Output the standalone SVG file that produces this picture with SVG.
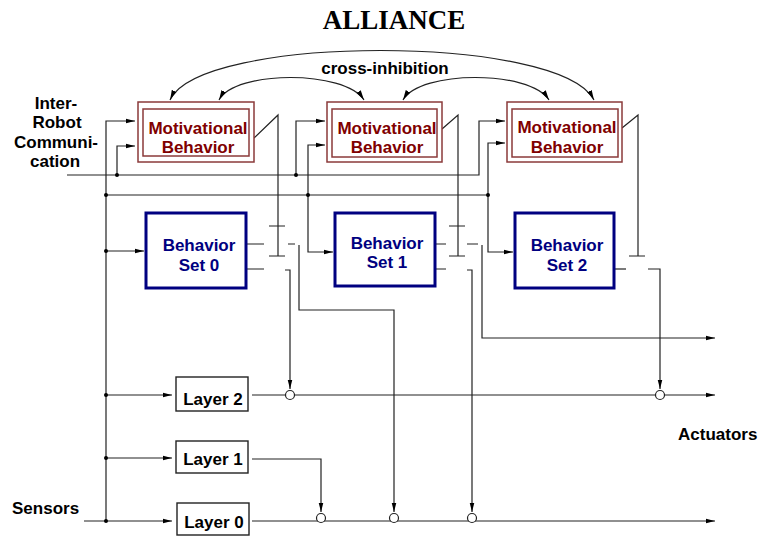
<svg xmlns="http://www.w3.org/2000/svg" width="759" height="536" viewBox="0 0 759 536">
<style>
  text { font-family: "Liberation Sans", Arial, sans-serif; font-weight: bold; }
  .lbl { font-size: 17px; fill: #000; }
  .mot { font-size: 17px; fill: #800000; text-anchor: middle; }
  .bs { font-size: 17px; fill: #000080; text-anchor: middle; }
  .lay { font-size: 17px; fill: #000; text-anchor: middle; }
  .ttl { font-family: "Liberation Serif", "Times New Roman", serif; font-size: 27px; fill: #000; text-anchor: middle; }
  .mbox { fill: #fff; stroke: #8b3a3a; stroke-width: 1.5; }
  .bbox { fill: #fff; stroke: #000080; stroke-width: 3; }
  .lbox { fill: #fff; stroke: #222; stroke-width: 1.4; }
  .ln { fill: none; stroke: #222; stroke-width: 1.2; }
  .arc { fill: none; stroke: #222; stroke-width: 1.2; }
  .dot { fill: #000; }
  .circ { fill: #fff; stroke: #222; stroke-width: 1.2; }
</style>
<defs>
  <marker id="a" viewBox="0 0 10 6" refX="10" refY="3" markerWidth="9" markerHeight="5.4" markerUnits="userSpaceOnUse" orient="auto-start-reverse">
    <path d="M0,0.5 L10,3 L0,5.5 z" fill="#000"/>
  </marker>
  <marker id="b" viewBox="0 0 10 6" refX="10" refY="3" markerWidth="10" markerHeight="6" markerUnits="userSpaceOnUse" orient="auto-start-reverse">
    <path d="M0,0.5 L10,3 L0,5.5 z" fill="#000"/>
  </marker>
</defs>
<rect width="759" height="536" fill="#fff"/>

<g id="title">
  <text class="ttl" x="394" y="29">ALLIANCE</text>
</g>

<g id="labels">
  <text class="lbl" x="385" y="74" text-anchor="middle">cross-inhibition</text>
  <text class="lbl" x="56" y="109" text-anchor="middle">Inter-</text>
  <text class="lbl" x="57" y="128" text-anchor="middle">Robot</text>
  <text class="lbl" x="56" y="148" text-anchor="middle">Communi-</text>
  <text class="lbl" x="55" y="167" text-anchor="middle">cation</text>
  <text class="lbl" x="12" y="514">Sensors</text>
  <text class="lbl" x="678" y="440">Actuators</text>
</g>

<g id="connectors">
  <!-- cross-inhibition arcs -->
  <path class="arc" d="M170,100 C200,34 560,34 594,100" marker-start="url(#b)" marker-end="url(#b)"/>
  <path class="arc" d="M219,100 C235,70 345,70 364,100" marker-start="url(#b)" marker-end="url(#b)"/>
  <path class="arc" d="M403,100 C420,70 530,70 549,100" marker-start="url(#b)" marker-end="url(#b)"/>

  <!-- inter-robot communication line -->
  <path class="ln" d="M67,175 H479 V121 H505" marker-end="url(#a)"/>
  <path class="ln" d="M296,175 V121 H325" marker-end="url(#a)"/>
  <path class="ln" d="M117,175 V146 H135" marker-end="url(#a)"/>

  <!-- sensor bus -->
  <path class="ln" d="M106,521 V121 H135" marker-end="url(#a)"/>
  <path class="ln" d="M84,521 H172" marker-end="url(#a)"/>
  <path class="ln" d="M106,195 H488 V143 H505" marker-end="url(#a)"/>
  <path class="ln" d="M488,195 V252 H513" marker-end="url(#a)"/>
  <path class="ln" d="M308,195 V145 H325" marker-end="url(#a)"/>
  <path class="ln" d="M308,195 V252 H333" marker-end="url(#a)"/>
  <path class="ln" d="M106,251 H144" marker-end="url(#a)"/>
  <path class="ln" d="M106,395 H172" marker-end="url(#a)"/>
  <path class="ln" d="M106,458 H172" marker-end="url(#a)"/>

  <!-- motivational outputs (switch control) -->
  <path class="ln" d="M254,138 L278,115 V256 M269,226 H285 M269,256 H285"/>
  <path class="ln" d="M442,129 L458,115 V256 M449,226 H465 M449,256 H465"/>
  <path class="ln" d="M622,128 L638,115 V256 M629,256 H645"/>

  <!-- behavior set outputs -->
  <path class="ln" d="M246,244 H264 M246,269 H264 M288,244 H295"/>
  <path class="ln" d="M299,245 V310 H394 V512" marker-end="url(#a)"/>
  <path class="ln" d="M285,270 H290 V389" marker-end="url(#a)"/>
  <path class="ln" d="M435,244 H446 M435,269 H446 M467,244 H478"/>
  <path class="ln" d="M482,245 V338 H715" marker-end="url(#a)"/>
  <path class="ln" d="M467,270 H472 V512" marker-end="url(#a)"/>
  <path class="ln" d="M614,269 H626"/>
  <path class="ln" d="M648,269 H660 V389" marker-end="url(#a)"/>

  <!-- layer outputs -->
  <path class="ln" d="M252,395 H715" marker-end="url(#a)"/>
  <path class="ln" d="M252,459 H321 V512" marker-end="url(#a)"/>
  <path class="ln" d="M252,521 H715" marker-end="url(#a)"/>

  <!-- junction dots -->
  <circle class="dot" cx="117" cy="175" r="2"/>
  <circle class="dot" cx="296" cy="175" r="2"/>
  <circle class="dot" cx="106" cy="195" r="2"/>
  <circle class="dot" cx="308" cy="195" r="2"/>
  <circle class="dot" cx="488" cy="195" r="2"/>
  <circle class="dot" cx="106" cy="251" r="2"/>
  <circle class="dot" cx="106" cy="395" r="2"/>
  <circle class="dot" cx="106" cy="458" r="2"/>
  <circle class="dot" cx="106" cy="521" r="2"/>

  <!-- suppression nodes -->
  <circle class="circ" cx="290" cy="395" r="4.5"/>
  <circle class="circ" cx="660" cy="395" r="4.5"/>
  <circle class="circ" cx="321" cy="518" r="4.5"/>
  <circle class="circ" cx="394" cy="518" r="4.5"/>
  <circle class="circ" cx="472" cy="518" r="4.5"/>
</g>

<g id="motiv0">
  <rect class="mbox" x="138" y="102" width="116" height="60"/>
  <rect class="mbox" x="143" y="109" width="106" height="47"/>
  <text class="mot" x="198" y="134">Motivational</text>
  <text class="mot" x="198" y="153">Behavior</text>
</g>
<g id="motiv1">
  <rect class="mbox" x="327" y="102" width="115" height="60"/>
  <rect class="mbox" x="332" y="109" width="105" height="48"/>
  <text class="mot" x="387" y="134">Motivational</text>
  <text class="mot" x="387" y="153">Behavior</text>
</g>
<g id="motiv2">
  <rect class="mbox" x="507" y="102" width="115" height="60"/>
  <rect class="mbox" x="512" y="109" width="106" height="48"/>
  <text class="mot" x="567" y="133">Motivational</text>
  <text class="mot" x="567" y="153">Behavior</text>
</g>

<g id="bset0">
  <rect class="bbox" x="146" y="213" width="100" height="75"/>
  <text class="bs" x="199" y="251">Behavior</text>
  <text class="bs" x="199" y="271">Set 0</text>
</g>
<g id="bset1">
  <rect class="bbox" x="335" y="213" width="100" height="73"/>
  <text class="bs" x="387" y="249">Behavior</text>
  <text class="bs" x="387" y="268">Set 1</text>
</g>
<g id="bset2">
  <rect class="bbox" x="515" y="213" width="99" height="75"/>
  <text class="bs" x="567" y="251">Behavior</text>
  <text class="bs" x="567" y="271">Set 2</text>
</g>

<g id="layer2">
  <rect class="lbox" x="176" y="377" width="72" height="34"/>
  <text class="lay" x="213" y="405">Layer 2</text>
</g>
<g id="layer1">
  <rect class="lbox" x="176" y="441" width="72" height="32"/>
  <text class="lay" x="213" y="465">Layer 1</text>
</g>
<g id="layer0">
  <rect class="lbox" x="177" y="503" width="72" height="32"/>
  <text class="lay" x="214" y="528">Layer 0</text>
</g>
</svg>
